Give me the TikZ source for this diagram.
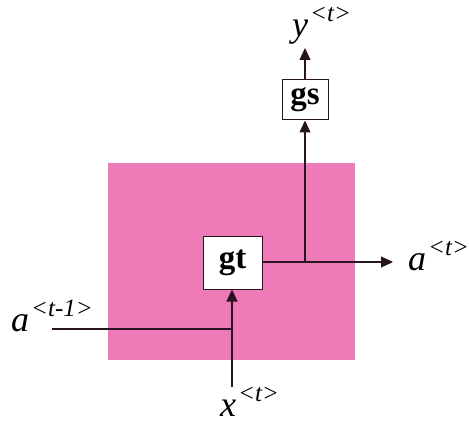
\documentclass[tikz,border=0pt]{standalone}
\usepackage{fontspec}
\setmainfont{Liberation Serif}
\usetikzlibrary{arrows.meta}
\definecolor{cellpink}{RGB}{238,122,184}
\definecolor{wire}{RGB}{40,20,30}
\newcommand{\lbl}[2]{{\fontsize{36}{36}\selectfont\itshape #1}\kern2pt\raisebox{15pt}{\fontsize{25}{25}\selectfont\itshape\textless#2\textgreater}}
\begin{document}
\begin{tikzpicture}[x=1pt,y=-1pt,
  gate/.style={draw=wire,line width=1pt,fill=white,inner sep=0pt,font=\fontsize{33}{33}\selectfont\bfseries},
  wireline/.style={draw=wire,line width=1.1pt},
  arr/.style={wireline,-{Triangle[length=12pt,width=11pt]}},
  lab/.style={inner sep=0pt,anchor=base west}]
\useasboundingbox (0,0) rectangle (469,425);
\fill[cellpink] (108,163) rectangle (355,360);
\node[gate,minimum width=59pt,minimum height=52pt] (gt) at (232.5,263) {gt};
\node[gate,minimum width=46pt,minimum height=40pt] (gs) at (305,100) {gs};
\coordinate (aout) at (393,262);
\coordinate (br) at (305,262);
\coordinate (yout) at (305,48);
\coordinate (ain) at (52,329);
\coordinate (join) at (232,329);
\coordinate (xin) at (232,387);
\draw[arr] (gt.east |- br) -- (aout);
\draw[arr] (br) -- (gs.south);
\draw[arr] (gs.north) -- (yout);
\draw[wireline] (ain) -- (join);
\draw[arr] (xin) -- (gt.south -| xin);
\node[lab] (ya) at (292,37) {\lbl{y}{t}};
\node[lab] (aa) at (408,270) {\lbl{a}{t}};
\node[lab] (ab) at (11,331) {\lbl{a}{t-1}};
\node[lab] (xa) at (220,416) {\lbl{x}{t}};
\end{tikzpicture}
\end{document}
